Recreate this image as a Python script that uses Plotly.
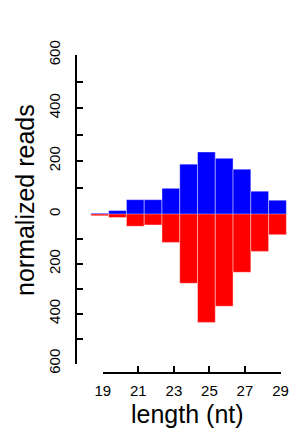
import plotly.graph_objects as go

lengths = [19, 20, 21, 22, 23, 24, 25, 26, 27, 28, 29]
sense_reads = [3, 13, 54, 54, 97, 188, 234, 210, 169, 86, 52]
antisense_reads = [7, 14, 49, 44, 114, 278, 435, 370, 234, 150, 83]

x_ticks = [19, 21, 23, 25, 27, 29]
y_ticks = [0, 100, 200, 300, 400, 500, 600]
y_ticklabels = ["0", "", "200", "", "400", "", "600"]

W, H = 289, 436
FONT = "Liberation Sans, Arial, Helvetica, sans-serif"

# pixel geometry helpers (style only)
px_per_unit = 17.77
x19_px = 102.8
def px_x(p):
    return p / W
def px_y(p):
    return (H - p) / H

x_range = [19 - x19_px / px_per_unit, 19 + (W - x19_px) / px_per_unit]

fig = go.Figure()
bar_style = dict(width=1.0, offset=-0.67, marker_line_color="rgba(255,255,255,0.8)",
                 marker_line_width=0.5, hoverinfo="skip", showlegend=False)
fig.add_trace(go.Bar(x=lengths, y=sense_reads, marker_color="#0000FF",
                     xaxis="x", yaxis="y", **bar_style))
fig.add_trace(go.Bar(x=lengths, y=antisense_reads, marker_color="#FF0000",
                     xaxis="x", yaxis="y2", **bar_style))
# invisible trace to carry the length tick axis
fig.add_trace(go.Scatter(x=[x_ticks[0], x_ticks[-1]], y=[0, 0], mode="markers",
                         marker=dict(opacity=0), xaxis="x2", yaxis="y",
                         hoverinfo="skip", showlegend=False))

axis_common = dict(showgrid=False, zeroline=False, showline=True, linecolor="black",
                   linewidth=1.8, ticks="inside", ticklen=6, tickwidth=1.8,
                   tickcolor="black", automargin=False,
                   tickfont=dict(family=FONT, size=15, color="black"))

fig.update_layout(
    template="none",
    width=W, height=H,
    margin=dict(l=0, r=0, t=0, b=0, pad=0),
    paper_bgcolor="white", plot_bgcolor="rgba(0,0,0,0)",
    barmode="overlay",
    xaxis=dict(domain=[0, 1], range=x_range, visible=False, anchor="y2", automargin=False),
    xaxis2=dict(domain=[px_x(x19_px), px_x(x19_px + 10 * px_per_unit)], range=[19, 29],
                anchor="free", position=px_y(372.5), tickvals=x_ticks,
                ticktext=[str(v) for v in x_ticks], ticklabelstandoff=5, **axis_common),
    yaxis=dict(domain=[px_y(214), px_y(55)], range=[0, 600], anchor="free",
               position=px_x(76), side="left", tickvals=y_ticks, ticktext=y_ticklabels,
               tickangle=-90, ticklabelstandoff=9, **axis_common),
    yaxis2=dict(domain=[px_y(363.5), px_y(214)], range=[600, 0], anchor="free",
                position=px_x(76), side="left", tickvals=y_ticks[1:],
                ticktext=y_ticklabels[1:], tickangle=-90, ticklabelstandoff=9, **axis_common),
    annotations=[
        dict(text="normalized reads", x=px_x(25), y=px_y(200), xref="paper", yref="paper",
             textangle=-90, showarrow=False, xanchor="center", yanchor="middle",
             font=dict(family=FONT, size=25, color="black")),
        dict(text="length (nt)", x=px_x(187), y=px_y(414), xref="paper", yref="paper",
             showarrow=False, xanchor="center", yanchor="middle",
             font=dict(family=FONT, size=25, color="black")),
    ],
)

fig.write_html("out.html", config={"displayModeBar": False},
               post_script="document.body.style.margin='0px';document.body.style.overflow='hidden';")
